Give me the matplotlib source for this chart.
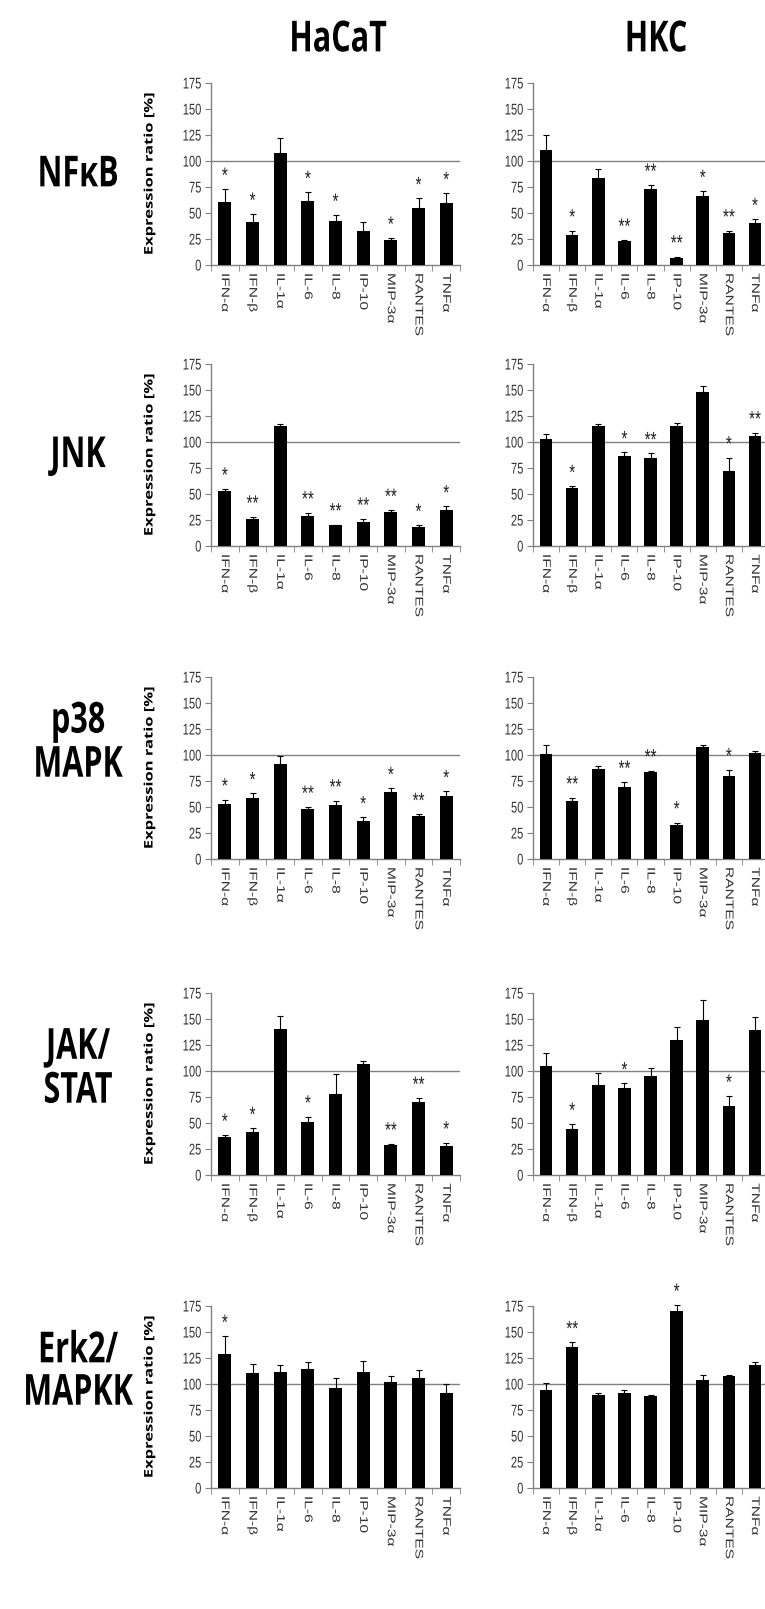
import numpy as np
import matplotlib.pyplot as plt
from matplotlib.patheffects import AbstractPathEffect
from matplotlib.transforms import Affine2D

categories = ['IFN-α', 'IFN-β', 'IL-1α', 'IL-6', 'IL-8', 'IP-10', 'MIP-3α', 'RANTES', 'TNFα']
cell_lines = ['HaCaT', 'HKC']
pathways = ['NFκB', 'JNK', 'p38\nMAPK', 'JAK/\nSTAT', 'Erk2/\nMAPKK']

# mean expression ratio [%], upper error (SD), significance marks
nfkb_hacat = [61, 41, 108, 62, 42, 33, 24, 55, 60]
nfkb_hacat_err = [12, 8, 14, 8, 6, 8, 2, 9, 9]
nfkb_hacat_sig = ['*', '*', '', '*', '*', '', '*', '*', '*']
nfkb_hkc = [111, 29, 84, 23, 73, 7, 66, 31, 40]
nfkb_hkc_err = [14, 4, 8, 1, 4, 1, 5, 2, 4]
nfkb_hkc_sig = ['', '*', '', '**', '**', '**', '*', '**', '*']

jnk_hacat = [53, 26, 115, 29, 20, 23, 33, 18, 35]
jnk_hacat_err = [2, 2, 2, 3, 0.5, 3, 1.5, 2, 3]
jnk_hacat_sig = ['*', '**', '', '**', '**', '**', '**', '*', '*']
jnk_hkc = [103, 56, 115, 87, 85, 115, 148, 72, 106]
jnk_hkc_err = [5, 1.5, 2, 3, 4, 3, 6, 13, 3]
jnk_hkc_sig = ['', '*', '', '*', '**', '', '', '*', '**']

p38_hacat = [53, 59, 91, 48, 52, 37, 64, 41, 61]
p38_hacat_err = [4, 4, 8, 2, 4, 3, 4, 2, 4]
p38_hacat_sig = ['*', '*', '', '**', '**', '*', '*', '**', '*']
p38_hkc = [101, 56, 87, 69, 84, 33, 108, 80, 102]
p38_hkc_err = [9, 3, 2, 5, 1, 2, 2, 6, 2]
p38_hkc_sig = ['', '**', '', '**', '**', '*', '', '*', '']

jak_hacat = [37, 41, 140, 51, 78, 107, 29, 70, 28]
jak_hacat_err = [1.5, 4, 13, 5, 19, 3, 1, 4, 3]
jak_hacat_sig = ['*', '*', '', '*', '', '', '**', '**', '*']
jak_hkc = [105, 44, 87, 84, 95, 130, 149, 66, 139]
jak_hkc_err = [12, 5, 11, 4, 8, 12, 19, 10, 13]
jak_hkc_sig = ['', '*', '', '*', '', '', '', '*', '']

erk_hacat = [129, 111, 112, 114, 96, 112, 102, 106, 91]
erk_hacat_err = [17, 8, 6, 7, 10, 10, 6, 7, 9]
erk_hacat_sig = ['*', '', '', '', '', '', '', '', '']
erk_hkc = [94, 136, 89, 91, 88, 170, 104, 108, 118]
erk_hkc_err = [7, 4, 2, 3, 1, 6, 5, 1, 3]
erk_hkc_sig = ['', '**', '', '', '', '*', '', '', '']

panels = [
    [(nfkb_hacat, nfkb_hacat_err, nfkb_hacat_sig), (nfkb_hkc, nfkb_hkc_err, nfkb_hkc_sig)],
    [(jnk_hacat, jnk_hacat_err, jnk_hacat_sig), (jnk_hkc, jnk_hkc_err, jnk_hkc_sig)],
    [(p38_hacat, p38_hacat_err, p38_hacat_sig), (p38_hkc, p38_hkc_err, p38_hkc_sig)],
    [(jak_hacat, jak_hacat_err, jak_hacat_sig), (jak_hkc, jak_hkc_err, jak_hkc_sig)],
    [(erk_hacat, erk_hacat_err, erk_hacat_sig), (erk_hkc, erk_hkc_err, erk_hkc_sig)],
]


class VStretch(AbstractPathEffect):
    """Stretch drawn text vertically (the original figure is tall-scaled)."""

    def __init__(self, sy=1.4, anchor='center'):
        super().__init__()
        self.sy = sy
        self.anchor = anchor

    def draw_path(self, renderer, gc, tpath, affine, rgbFace=None):
        ext = tpath.get_extents(affine)
        ay = ext.y1 if self.anchor == 'top' else (ext.y0 + ext.y1) / 2
        a = affine + Affine2D().translate(0, -ay).scale(1, self.sy).translate(0, ay)
        renderer.draw_path(gc, tpath, a, rgbFace)


SY = 1.4
W, H = 765, 1609
fig = plt.figure(figsize=(W / 100, H / 100), dpi=100)

tick_font = ['Liberation Sans', 'DejaVu Sans']
head_font = ['Open Sans', 'DejaVu Sans']
grey = '#808080'

col_x = [211, 533]
col_w = [249, 235]
row_bottom = [265, 546, 859, 1175, 1488]
ax_h = 182
label_y = [174, 456, 743, 1069, 1371]

x = np.arange(len(categories))

for r, row in enumerate(panels):
    b = row_bottom[r]
    for c, (vals, errs, sigs) in enumerate(row):
        ax = fig.add_axes([col_x[c] / W, 1 - b / H, col_w[c] / W, ax_h / H])
        ax.axhline(100, color=grey, lw=1, zorder=1)
        ax.bar(x, vals, width=0.48, color='black', zorder=3)
        eb = ax.errorbar(x, vals, yerr=[np.zeros(len(vals)), errs], fmt='none',
                         ecolor='black', elinewidth=0.8, capsize=2, capthick=0.8, zorder=2)
        for art in list(eb.lines[1]) + list(eb.lines[2]):
            art.set_clip_on(False)
        for i, s in enumerate(sigs):
            if s:
                ax.annotate(s, (x[i], vals[i] + errs[i]), xytext=(0, 5),
                            textcoords='offset points', ha='center', va='bottom',
                            fontsize=11, color='#222222', family=tick_font,
                            annotation_clip=False, path_effects=[VStretch(SY)])
        ax.set_xlim(-0.5, len(categories) - 0.5)
        ax.set_ylim(0, 175)
        ax.set_yticks(np.arange(0, 176, 25))
        ax.set_xticks(x)
        ax.set_xticklabels(categories, rotation=-90, family=tick_font, fontsize=8, color='#333333')
        ax.set_xticks(np.arange(-0.5, len(categories), 1), minor=True)
        ax.tick_params(axis='x', which='major', length=0, pad=6)
        ax.tick_params(axis='x', which='minor', length=4, color=grey, direction='out')
        ax.tick_params(axis='y', length=4, color=grey, labelsize=8, labelcolor='#333333', pad=3)
        for lab in ax.get_xticklabels():
            lab.set_path_effects([VStretch(SY, 'top')])
        for lab in ax.get_yticklabels():
            lab.set_family(tick_font)
            lab.set_path_effects([VStretch(SY)])
        for sp in ['top', 'right']:
            ax.spines[sp].set_visible(False)
        for sp in ['left', 'bottom']:
            ax.spines[sp].set_color(grey)
            ax.spines[sp].set_linewidth(1)
        ax.set_facecolor('none')

    fig.text(78 / W, 1 - label_y[r] / H, pathways[r], ha='center', va='center', fontsize=22,
             fontweight='bold', family=head_font, linespacing=1.55,
             path_effects=[VStretch(SY)])
    fig.text(149 / W, 1 - (b - ax_h / 2) / H, 'Expression ratio [%]', ha='center', va='center',
             rotation=90, fontsize=8.5, fontweight='bold', family=head_font,
             path_effects=[VStretch(SY)])

fig.text(338 / W, 1 - 39 / H, cell_lines[0], ha='center', va='center', fontsize=22,
         fontweight='bold', family=head_font, path_effects=[VStretch(SY)])
fig.text(656 / W, 1 - 39 / H, cell_lines[1], ha='center', va='center', fontsize=22,
         fontweight='bold', family=head_font, path_effects=[VStretch(SY)])

fig.savefig('out.png', dpi=100)
